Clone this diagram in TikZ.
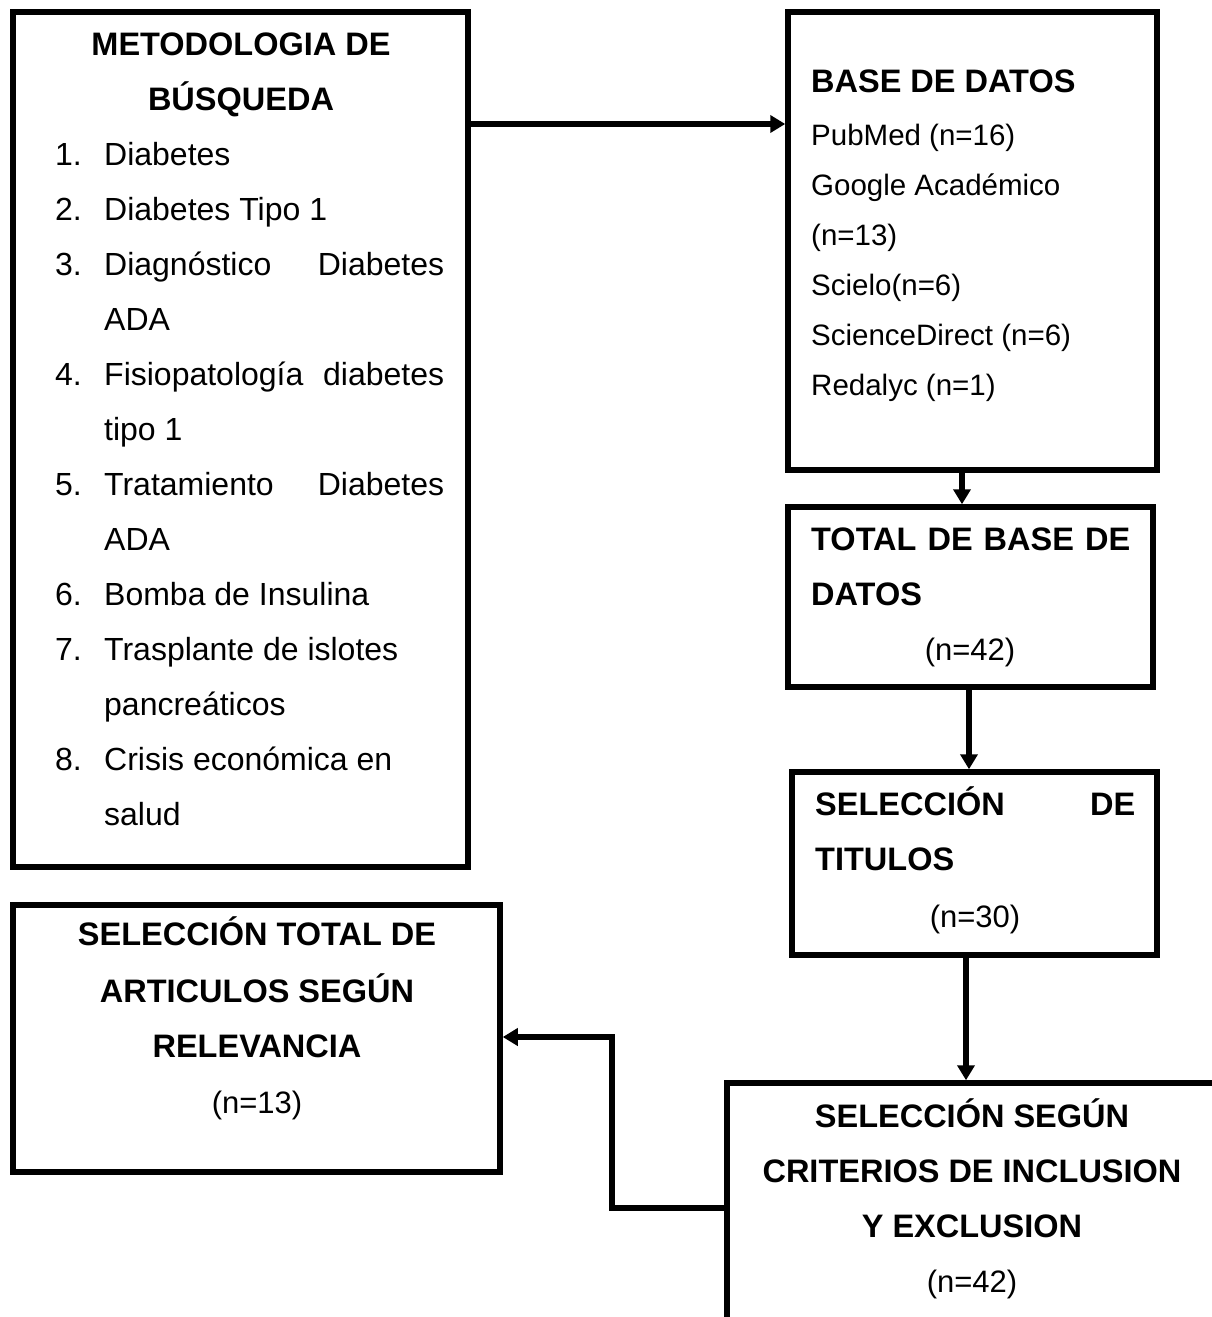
\documentclass[tikz,border=0pt]{standalone}
\usepackage{fontspec}
\setmainfont{Liberation Sans}
\usetikzlibrary{arrows.meta,fit}
\begin{document}
\begin{tikzpicture}[x=1pt,y=-1pt,
  box/.style={draw, line width=5.5pt, inner sep=0pt},
  t/.style={inner sep=0pt, anchor=base west, font=\fontsize{32}{38}\selectfont},
  ts/.style={t, font=\fontsize{29.5}{35}\selectfont},
  tb/.style={t, font=\fontsize{32.5}{38}\selectfont\bfseries},
  tc/.style={t, anchor=base, font=\fontsize{31}{37}\selectfont},
  tbc/.style={tb, anchor=base},
  conn/.style={line width=5.5pt, -{Triangle[length=15pt,width=17pt]}}]
\useasboundingbox (0,0) rectangle (1212,1317);
\clip (0,0) rectangle (1212,1317);
% corner coordinates
\coordinate (b1a) at (13,12);   \coordinate (b1b) at (468,867);
\coordinate (b2a) at (788,12);  \coordinate (b2b) at (1157,470);
\coordinate (b3a) at (788,507); \coordinate (b3b) at (1153,687);
\coordinate (b4a) at (792,772); \coordinate (b4b) at (1157,955);
\coordinate (b5a) at (727,1083);\coordinate (b5b) at (1240,1360);
\coordinate (b6a) at (13,905);  \coordinate (b6b) at (500,1172);
\node[box, fit=(b1a)(b1b)] (b1) {};
\node[box, fit=(b2a)(b2b)] (b2) {};
\node[box, fit=(b3a)(b3b)] (b3) {};
\node[box, fit=(b4a)(b4b)] (b4) {};
\node[box, fit=(b5a)(b5b)] (b5) {};
\node[box, fit=(b6a)(b6b)] (b6) {};
% box 1
\node[tbc] (m0a) at (241,55) {METODOLOGIA DE};
\node[tbc] (m0b) at (241,110) {BÚSQUEDA};
\node[t] (n1) at (55,165) {1.};
\node[t] (n2) at (55,220) {2.};
\node[t] (n3) at (55,275) {3.};
\node[t] (n4) at (55,385) {4.};
\node[t] (n5) at (55,495) {5.};
\node[t] (n6) at (55,605) {6.};
\node[t] (n7) at (55,660) {7.};
\node[t] (n8) at (55,770) {8.};
\node[t] (m1) at (104,165) {Diabetes};
\node[t] (m2) at (104,220) {Diabetes Tipo 1};
\node[t] (m3) at (104,275) {\makebox[340pt][s]{Diagnóstico Diabetes}};
\node[t] (m4) at (104,330) {ADA};
\node[t] (m5) at (104,385) {\makebox[340pt][s]{Fisiopatología diabetes}};
\node[t] (m6) at (104,440) {tipo 1};
\node[t] (m7) at (104,495) {\makebox[340pt][s]{Tratamiento Diabetes}};
\node[t] (m8) at (104,550) {ADA};
\node[t] (m9) at (104,605) {Bomba de Insulina};
\node[t] (m10) at (104,660) {Trasplante de islotes};
\node[t] (m11) at (104,715) {pancreáticos};
\node[t] (m12) at (104,770) {Crisis económica en};
\node[t] (m13) at (104,825) {salud};
% box 2
\node[tb] (d0) at (811,92) {BASE DE DATOS};
\node[ts] (d1) at (811,145) {PubMed (n=16)};
\node[ts] (d2) at (811,195) {Google Académico};
\node[ts] (d3) at (811,245) {(n=13)};
\node[ts] (d4) at (811,295) {Scielo(n=6)};
\node[ts] (d5) at (811,345) {ScienceDirect (n=6)};
\node[ts] (d6) at (811,395) {Redalyc (n=1)};
% box 3
\node[tb] (s1) at (811,550) {\makebox[319pt][s]{TOTAL DE BASE DE}};
\node[tb] (s2) at (811,605) {DATOS};
\node[tc] (s3) at (970,660) {(n=42)};
% box 4
\node[tb] (u1) at (815,815) {\makebox[320pt][s]{SELECCIÓN DE}};
\node[tb] (u2) at (815,870) {TITULOS};
\node[tc] (u3) at (975,927) {(n=30)};
% box 5
\node[tbc] (v1) at (972,1127) {SELECCIÓN SEGÚN};
\node[tbc] (v2) at (972,1182) {CRITERIOS DE INCLUSION};
\node[tbc] (v3) at (972,1237) {Y EXCLUSION};
\node[tc] (v4) at (972,1292) {(n=42)};
% box 6
\node[tbc] (w1) at (257,945) {SELECCIÓN TOTAL DE};
\node[tbc] (w2) at (257,1002) {ARTICULOS SEGÚN};
\node[tbc] (w3) at (257,1057) {RELEVANCIA};
\node[tc] (w4) at (257,1113) {(n=13)};
% connectors
\draw[conn] (b1.east |- 0,124) -- (b2.west |- 0,124);
\draw[conn] (b2.south -| 962,0) -- (b3.north -| 962,0);
\draw[conn] (b3.south -| 969,0) -- (b4.north -| 969,0);
\draw[conn] (b4.south -| 966,0) -- (b5.north -| 966,0);
\coordinate (j1) at (612,1208);
\coordinate (j2) at (612,1037);
\draw[conn] (b5.west |- j1) -- (j1) -- (j2) -- (b6.east |- j2);
\end{tikzpicture}
\end{document}
